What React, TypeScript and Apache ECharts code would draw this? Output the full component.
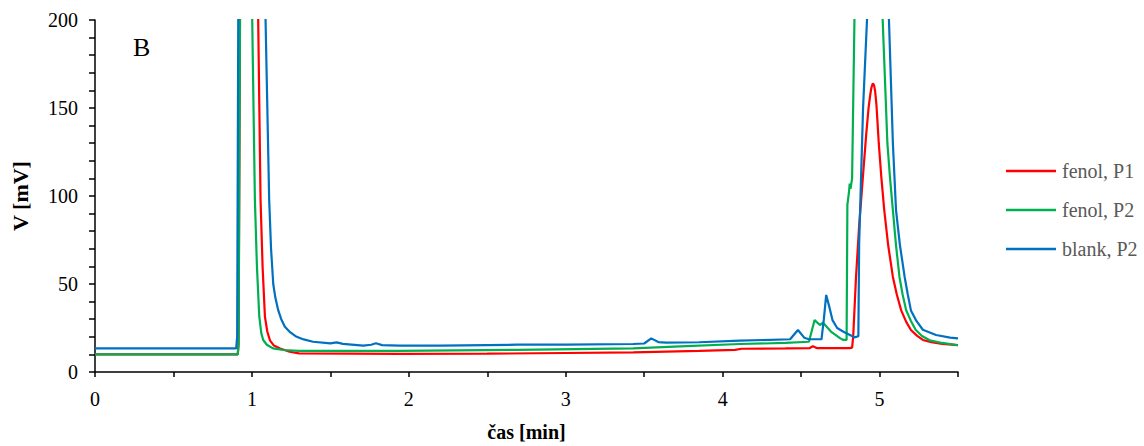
import React, { useEffect, useRef } from "react";
import * as echarts from "echarts";

const seriesNames = ["fenol, P1", "fenol, P2", "blank, P2"];
const seriesColors = ["#FF0000", "#00B050", "#0070C0"];

// [čas (min), V (mV)]
const fenolP1: [number, number][] = [
  [0, 10], [0.91, 10], [0.915, 16], [0.924, 200], [0.96, 900], [1.0, 700], [1.04, 200],
  [1.055, 98], [1.068, 60], [1.083, 31.4], [1.098, 23], [1.115, 18], [1.14, 15],
  [1.18, 13.4], [1.24, 11.5], [1.3, 10.6], [1.94, 10.3],
  [2.5, 10.4], [3.0, 10.8], [3.43, 11.2], [3.85, 12], [4.08, 12.6], [4.12, 13.2],
  [4.4, 13.4], [4.555, 13.6], [4.575, 14.6], [4.6, 13.6], [4.81, 13.6], [4.825, 13.8],
  [4.832, 20], [4.84, 35], [4.85, 54], [4.87, 83], [4.894, 111], [4.915, 135],
  [4.93, 150], [4.94, 157], [4.948, 161.5], [4.957, 164], [4.965, 163], [4.972, 159.5],
  [4.98, 152], [4.987, 142], [4.995, 130], [5.012, 110], [5.03, 92], [5.055, 72],
  [5.085, 54], [5.11, 44], [5.138, 35], [5.17, 28.5], [5.2, 23.9], [5.24, 20.5],
  [5.276, 18.2], [5.33, 17], [5.4, 16], [5.5, 15.3],
];

const fenolP2: [number, number][] = [
  [0, 10], [0.91, 10], [0.915, 16], [0.924, 200], [0.95, 800], [0.98, 600], [1.002, 200],
  [1.019, 98], [1.032, 60], [1.047, 31.4], [1.06, 22], [1.072, 18.2], [1.095, 15.5],
  [1.134, 13.4], [1.2, 12.5], [1.3, 12], [1.94, 12],
  [2.69, 12.6], [3.43, 13.4], [3.73, 14.6], [4.11, 15.9], [4.4, 16.5], [4.55, 17.2],
  [4.586, 29.5], [4.62, 26.7], [4.64, 28], [4.69, 23], [4.75, 19.1], [4.77, 18.2],
  [4.79, 18.2], [4.795, 95], [4.805, 102], [4.81, 107], [4.815, 104], [4.825, 110],
  [4.84, 200], [4.86, 300], [4.94, 420], [5.0, 260], [5.02, 200], [5.05, 130],
  [5.067, 110], [5.085, 92], [5.105, 72], [5.127, 54], [5.147, 44], [5.17, 35],
  [5.2, 29], [5.23, 24], [5.27, 20.5], [5.32, 18], [5.4, 16.5], [5.5, 15.2],
];

const blankP2: [number, number][] = [
  [0, 13.4], [0.9, 13.4], [0.906, 20], [0.913, 200], [0.93, 600], [1.0, 1500], [1.06, 500],
  [1.087, 200], [1.11, 98], [1.122, 70], [1.136, 50], [1.15, 42], [1.168, 35],
  [1.187, 30], [1.21, 25.7], [1.245, 22.5], [1.285, 20], [1.33, 18.5],
  [1.39, 17.2], [1.5, 16.3], [1.54, 16.8], [1.58, 16], [1.71, 15], [1.76, 15.5],
  [1.79, 16.3], [1.83, 15.3], [1.94, 15], [2.2, 15], [2.69, 15.5], [3.0, 15.6],
  [3.43, 15.9], [3.5, 16.2], [3.545, 19.1], [3.59, 17], [3.64, 16.7], [3.85, 16.9],
  [4.11, 17.8], [4.43, 18.6], [4.48, 23.9], [4.52, 19.5], [4.55, 18.6], [4.63, 18.6],
  [4.645, 30], [4.66, 43.8], [4.68, 37], [4.7, 29.5], [4.73, 25], [4.77, 22.9],
  [4.84, 19.7], [4.865, 20.3], [4.87, 73], [4.895, 150], [4.92, 200], [4.95, 350],
  [5.0, 380], [5.04, 260], [5.06, 200], [5.085, 130], [5.105, 92], [5.13, 72],
  [5.16, 54], [5.18, 44], [5.2, 35], [5.235, 29], [5.276, 24], [5.36, 21],
  [5.45, 19.5], [5.5, 19.1],
];

const allData = [fenolP1, fenolP2, blankP2];

const FONT = "Liberation Serif";

export default function App() {
  const ref = useRef<HTMLDivElement>(null);
  useEffect(() => {
    document.body.style.margin = "0";
    const chart = echarts.init(ref.current!, null, { renderer: "svg" });
    chart.setOption({
      animation: false,
      backgroundColor: "#ffffff",
      grid: {
        left: 95,
        right: 186,
        top: 20,
        bottom: 74,
        containLabel: false,
        outerBoundsMode: "none",
      },
      legend: {
        orient: "vertical",
        left: 1001,
        top: 156,
        icon: "rect",
        itemWidth: 50,
        itemHeight: 2.5,
        itemGap: 19,
        data: seriesNames,
        textStyle: { fontFamily: FONT, fontSize: 20, color: "#595959", padding: [0, 0, 0, 1] },
      },
      graphic: [
        {
          type: "text",
          x: 133,
          y: 47,
          style: {
            text: "B",
            fontFamily: FONT,
            fontSize: 26,
            fill: "#000",
            textAlign: "left",
            textVerticalAlign: "middle",
          },
        },
      ],
      xAxis: {
        type: "value",
        min: 0,
        max: 5.5,
        interval: 0.5,
        name: "čas [min]",
        nameLocation: "middle",
        nameGap: 50,
        nameTextStyle: { fontFamily: FONT, fontSize: 20, fontWeight: "bold", color: "#000" },
        axisLine: { show: true, onZero: false, lineStyle: { color: "#000", width: 1.5 } },
        axisTick: { show: true, inside: false, length: 5, lineStyle: { color: "#000", width: 1.5 } },
        splitLine: { show: false },
        axisLabel: {
          fontFamily: FONT,
          fontSize: 20,
          color: "#000",
          margin: 17,
          formatter: (v: number) => (Number.isInteger(v) ? String(v) : ""),
        },
      },
      yAxis: {
        type: "value",
        min: 0,
        max: 200,
        interval: 50,
        name: "V [mV]",
        nameLocation: "middle",
        nameGap: 64,
        nameTextStyle: { fontFamily: FONT, fontSize: 22, fontWeight: "bold", color: "#000" },
        axisLine: { show: true, lineStyle: { color: "#000", width: 1.5 } },
        axisTick: { show: true, inside: false, length: 6, lineStyle: { color: "#000", width: 1.5 } },
        minorTick: { show: true, splitNumber: 5, length: 6, lineStyle: { color: "#000", width: 1.5 } },
        splitLine: { show: false },
        axisLabel: { fontFamily: FONT, fontSize: 20, color: "#000", margin: 17 },
      },
      series: allData.map((d, i) => ({
        name: seriesNames[i],
        type: "line",
        data: d,
        symbol: "none",
        showSymbol: false,
        clip: true,
        color: seriesColors[i],
        lineStyle: { width: 2.2, color: seriesColors[i] },
      })),
    });
    return () => chart.dispose();
  }, []);
  return <div ref={ref} style={{ width: 1144, height: 446 }} />;
}
